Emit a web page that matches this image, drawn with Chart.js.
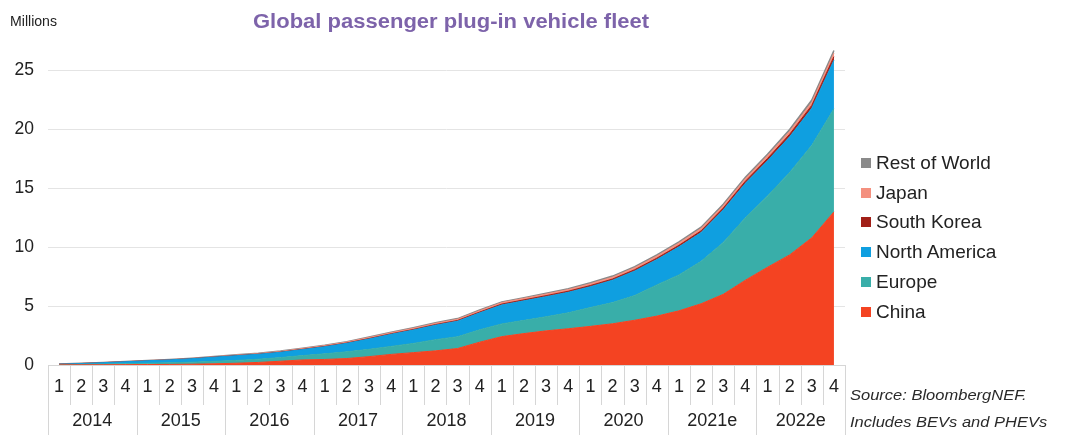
<!DOCTYPE html>
<html>
<head>
<meta charset="utf-8">
<title>Global passenger plug-in vehicle fleet</title>
<script src="https://cdn.jsdelivr.net/npm/chart.js@4.4.1/dist/chart.umd.min.js"></script>
<style>
    body { margin: 0; background: #fff; font-family: 'Liberation Sans', Arial, sans-serif; }
    #wrap { position: relative; width: 1066px; height: 435px; overflow: hidden; }
    #wrap canvas { position: absolute; left: 0; top: 0; }
    .txt { position: absolute; white-space: nowrap; transform-origin: 0 50%; }
    #title { left: 253px; top: 9px; font-size: 20px; line-height: 24px; font-weight: bold; color: #7d63aa; transform: scaleX(1.1); }
    #units { left: 10px; top: 12px; font-size: 15px; line-height: 18px; color: #222; transform: scaleX(0.94); }
    #legend { position: absolute; left: 0; top: 0; }
    .item { position: absolute; left: 861px; height: 22px; }
    .item i { position: absolute; left: 0; top: 6px; width: 10px; height: 10px; }
    .item span { position: absolute; left: 15px; top: 0; font-size: 19px; line-height: 22px; color: #222; white-space: nowrap; }
    .src { left: 850px; font-size: 15px; line-height: 18px; font-style: italic; color: #2a2a2a; transform: scaleX(1.1); }
</style>
</head>
<body>
<div id="wrap">
    <canvas id="fleet-chart"></canvas>
    <div class="txt" id="units">Millions</div>
    <div class="txt" id="title">Global passenger plug-in vehicle fleet</div>
    <div id="legend"></div>
    <div class="txt src" style="top:386px">Source: BloombergNEF.</div>
    <div class="txt src" style="top:413px">Includes BEVs and PHEVs</div>
</div>
<script>
// Categories
const years = ['2014', '2015', '2016', '2017', '2018', '2019', '2020', '2021e', '2022e'];
const quarters = ['1', '2', '3', '4'];

// Fleet by region, millions, end of each quarter
const china = [0.01, 0.015, 0.02, 0.03, 0.04, 0.05, 0.07, 0.1, 0.15, 0.22, 0.32, 0.43,
    0.47, 0.55, 0.71, 0.9, 1.05, 1.2, 1.4, 1.94, 2.41, 2.67, 2.9, 3.08,
    3.28, 3.5, 3.8, 4.15, 4.6, 5.2, 6.0, 7.2, 8.3, 9.35, 10.8, 13.0];
const europe = [0.02, 0.035, 0.06, 0.08, 0.11, 0.14, 0.17, 0.21, 0.24, 0.27, 0.31, 0.37,
    0.48, 0.57, 0.62, 0.68, 0.78, 0.95, 1.0, 1.05, 1.08, 1.12, 1.2, 1.35,
    1.6, 1.8, 2.1, 2.65, 3.05, 3.6, 4.4, 5.3, 6.05, 7.0, 7.85, 8.75];
const northAmerica = [0.04, 0.075, 0.12, 0.165, 0.21, 0.245, 0.295, 0.355, 0.4, 0.42, 0.45, 0.51,
    0.6, 0.72, 0.88, 1.03, 1.14, 1.23, 1.32, 1.44, 1.61, 1.66, 1.7, 1.74,
    1.77, 1.9, 2.08, 2.15, 2.38, 2.45, 2.77, 2.93, 2.99, 3.03, 3.15, 4.13];
const southKorea = [0, 0, 0, 0, 0, 0, 0.005, 0.005, 0.01, 0.01, 0.015, 0.02,
    0.025, 0.03, 0.035, 0.04, 0.045, 0.05, 0.06, 0.065, 0.075, 0.08, 0.09, 0.095,
    0.1, 0.1, 0.11, 0.12, 0.13, 0.14, 0.15, 0.17, 0.19, 0.21, 0.24, 0.3];
const japan = [0.01, 0.01, 0.015, 0.015, 0.02, 0.02, 0.025, 0.03, 0.04, 0.045, 0.055, 0.07,
    0.075, 0.08, 0.09, 0.095, 0.1, 0.105, 0.11, 0.12, 0.125, 0.13, 0.135, 0.14,
    0.15, 0.16, 0.17, 0.18, 0.19, 0.2, 0.21, 0.22, 0.23, 0.25, 0.27, 0.3];
const restOfWorld = [0, 0.005, 0.005, 0.01, 0.01, 0.015, 0.015, 0.02, 0.02, 0.025, 0.03, 0.03,
    0.03, 0.03, 0.035, 0.035, 0.045, 0.045, 0.05, 0.055, 0.06, 0.06, 0.065, 0.075,
    0.08, 0.09, 0.09, 0.1, 0.1, 0.11, 0.12, 0.13, 0.14, 0.16, 0.19, 0.22];

// Y axis
const yMax = 27;
const yStep = 5;

const labels = years.flatMap(y => quarters.map(q => y + ' Q' + q));

const series = [
    { label: 'China', data: china, color: '#f44322' },
    { label: 'Europe', data: europe, color: '#39aea9' },
    { label: 'North America', data: northAmerica, color: '#0f9fe0' },
    { label: 'South Korea', data: southKorea, color: '#a11f17' },
    { label: 'Japan', data: japan, color: '#f4907f' },
    { label: 'Rest of World', data: restOfWorld, color: '#8a8a8a' }
];

// Legend (top to bottom = reversed stack)
const legend = document.getElementById('legend');
series.slice().reverse().forEach((s, k) => {
    const row = document.createElement('div');
    row.className = 'item';
    row.style.top = (163 + k * 29.7 - 11) + 'px';
    row.innerHTML = `<i style="background:${s.color}"></i><span>${s.label}</span>`;
    legend.appendChild(row);
});

// Two-row category table under the plot (quarters, then years)
const tablePlugin = {
    id: 'quarterTable',
    afterDraw(chart) {
        const { ctx, chartArea } = chart;
        const x = chart.scales.x;
        const top = chartArea.bottom;
        const half = (x.getPixelForValue(1) - x.getPixelForValue(0)) / 2;
        ctx.save();
        ctx.strokeStyle = '#d6d6d6';
        ctx.lineWidth = 1;
        ctx.beginPath();
        ctx.moveTo(chartArea.left, top + 0.5);
        ctx.lineTo(chartArea.right, top + 0.5);
        for (let i = 0; i <= labels.length; i++) {
            const px = Math.round(x.getPixelForValue(i) - half) + 0.5;
            const yearEdge = i % quarters.length === 0;
            ctx.moveTo(px, top);
            ctx.lineTo(px, yearEdge ? top + 70 : top + 40);
        }
        ctx.stroke();

        ctx.fillStyle = '#222';
        ctx.font = '18px "Liberation Sans", Arial, sans-serif';
        ctx.textAlign = 'center';
        ctx.textBaseline = 'middle';
        labels.forEach((lab, i) => {
            ctx.fillText(quarters[i % quarters.length], x.getPixelForValue(i), top + 22);
        });
        years.forEach((yr, k) => {
            const a = x.getPixelForValue(k * quarters.length);
            const b = x.getPixelForValue((k + 1) * quarters.length - 1);
            ctx.fillText(yr, (a + b) / 2, top + 56);
        });
        ctx.restore();
    }
};

new Chart(document.getElementById('fleet-chart'), {
    type: 'line',
    data: {
        labels: labels,
        datasets: series.map((s, k) => ({
            label: s.label,
            data: s.data,
            backgroundColor: s.color,
            borderColor: s.color,
            borderWidth: k === series.length - 1 ? 1.5 : 1,
            pointRadius: 0,
            tension: 0,
            fill: k === 0 ? 'origin' : '-1'
        }))
    },
    options: {
        responsive: true,
        maintainAspectRatio: false,
        animation: false,
        layout: { padding: { top: 47, right: 221, bottom: 70, left: 0 } },
        plugins: { legend: { display: false }, tooltip: { enabled: false } },
        scales: {
            x: { type: 'category', offset: true, display: false },
            y: {
                stacked: true,
                min: 0,
                max: yMax,
                ticks: { stepSize: yStep, color: '#222', font: { size: 17.5, family: '"Liberation Sans", Arial, sans-serif' }, padding: 14 },
                grid: { color: '#e4e4e4', drawTicks: false },
                border: { display: false },
                afterBuildTicks: s => { s.ticks = s.ticks.filter(t => t.value % yStep === 0); },
                afterFit: s => { s.width = 48; }
            }
        }
    },
    plugins: [tablePlugin]
});
</script>
</body>
</html>
